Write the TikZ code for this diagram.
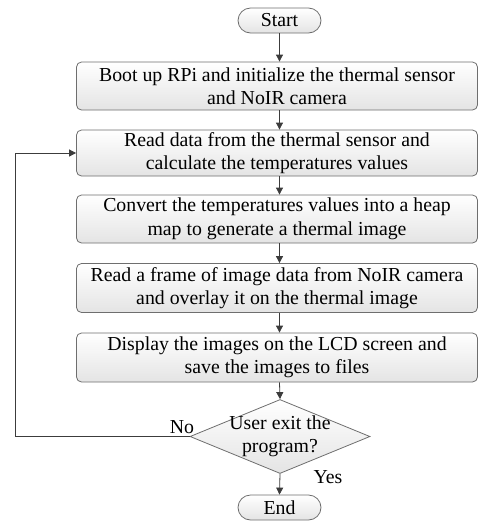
\documentclass[tikz,border=0pt]{standalone}
\usepackage{fontspec}
\setmainfont{Liberation Serif}
\usetikzlibrary{shapes.geometric,arrows.meta}
\definecolor{edgegray}{RGB}{110,110,110}
\definecolor{linegray}{RGB}{60,60,60}
\definecolor{shadegray}{RGB}{228,228,228}
\tikzset{
  x=1pt, y=-1pt,
  every node/.style={font=\fontsize{19.8}{23.5}\selectfont},
  procbox/.style={draw=edgegray, line width=0.8pt, rounded corners=5pt, top color=white, bottom color=shadegray, minimum width=401pt, align=center, inner sep=0pt},
  termbox/.style={draw=edgegray, line width=0.8pt, rounded corners=12.5pt, top color=white, bottom color=shadegray, minimum width=83pt, minimum height=25pt, inner sep=0pt},
  decbox/.style={draw=edgegray, line width=0.8pt, diamond, aspect=2.43, top color=white, bottom color=shadegray, minimum width=180pt, minimum height=74pt, inner sep=0pt, align=center},
  flow/.style={draw=linegray, line width=0.8pt, -{Triangle[length=7pt,width=7pt]}},
  lbl/.style={inner sep=0pt}
}
\begin{document}
\begin{tikzpicture}
\useasboundingbox (0,0) rectangle (478,523);
\node[termbox] (start) at (279.5,20.5) {Start};
\node[procbox, minimum height=48pt] (b1) at (277,86) {Boot up RPi and initialize the thermal sensor\\and NoIR camera};
\node[procbox, minimum height=46pt] (b2) at (277,153) {Read data from the thermal sensor and\\calculate the temperatures values};
\node[procbox, minimum height=48pt] (b3) at (277,219) {Convert the temperatures values into a heap\\map to generate a thermal image};
\node[procbox, minimum height=49pt] (b4) at (277,288) {Read a frame of image data from NoIR camera\\and overlay it on the thermal image};
\node[procbox, minimum height=49pt] (b5) at (277,357.5) {Display the images on the LCD screen and\\save the images to files};
\node[decbox] (d) at (280,436.5) {\makebox[0pt]{User exit the}\\\makebox[0pt]{program?}};
\node[termbox] (end) at (279.5,507.5) {End};
\coordinate (lft) at (15,436.5);
\coordinate (lftup) at (15,153);
\draw[flow] (start) -- (start |- b1.north);
\draw[flow] (start |- b1.south) -- (start |- b2.north);
\draw[flow] (start |- b2.south) -- (start |- b3.north);
\draw[flow] (start |- b3.south) -- (start |- b4.north);
\draw[flow] (start |- b4.south) -- (start |- b5.north);
\draw[flow] (start |- b5.south) -- (d.north);
\draw[flow] (d.south) -- (end.north);
\draw[flow] (d.west) -- (lft) -- (lftup) -- (b2.west);
\node[lbl] (no) at (182,427) {No};
\node[lbl] (yes) at (328,477) {Yes};
\end{tikzpicture}
\end{document}
